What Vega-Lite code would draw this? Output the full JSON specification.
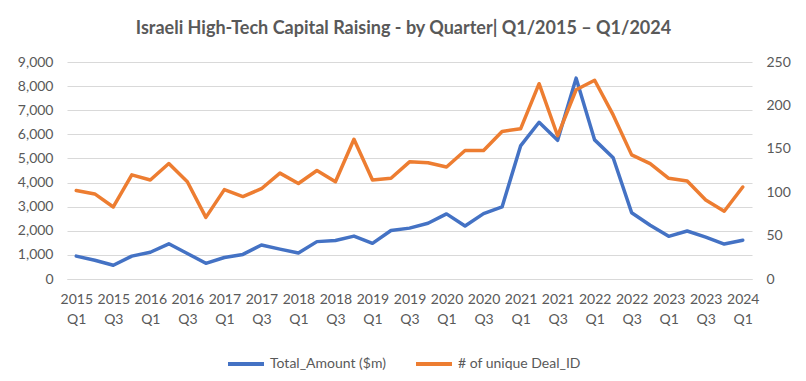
{
  "$schema": "https://vega.github.io/schema/vega-lite/v6.json",
  "autosize": {"type": "none"},
  "padding": {"left": 67, "top": 62, "right": 54, "bottom": 102},
  "width": 685,
  "height": 217,
  "background": "white",
  "title": {
    "text": "Israeli High-Tech Capital Raising - by Quarter| Q1/2015 – Q1/2024",
    "font": "Lato",
    "fontSize": 18,
    "fontWeight": "bold",
    "color": "#595959",
    "anchor": "middle",
    "offset": 17,
    "dx": -6
  },
  "data": {
    "values": [
      {"q": "2015 Q1", "amt": 950, "deals": 102},
      {"q": "2015 Q2", "amt": 780, "deals": 98},
      {"q": "2015 Q3", "amt": 570, "deals": 83},
      {"q": "2015 Q4", "amt": 950, "deals": 120},
      {"q": "2016 Q1", "amt": 1110, "deals": 114},
      {"q": "2016 Q2", "amt": 1460, "deals": 133},
      {"q": "2016 Q3", "amt": 1060, "deals": 112},
      {"q": "2016 Q4", "amt": 650, "deals": 71},
      {"q": "2017 Q1", "amt": 890, "deals": 103},
      {"q": "2017 Q2", "amt": 1020, "deals": 95},
      {"q": "2017 Q3", "amt": 1410, "deals": 104},
      {"q": "2017 Q4", "amt": 1240, "deals": 122},
      {"q": "2018 Q1", "amt": 1080, "deals": 110},
      {"q": "2018 Q2", "amt": 1550, "deals": 125},
      {"q": "2018 Q3", "amt": 1600, "deals": 112},
      {"q": "2018 Q4", "amt": 1780, "deals": 161},
      {"q": "2019 Q1", "amt": 1480, "deals": 114},
      {"q": "2019 Q2", "amt": 2010, "deals": 116},
      {"q": "2019 Q3", "amt": 2110, "deals": 135},
      {"q": "2019 Q4", "amt": 2310, "deals": 134},
      {"q": "2020 Q1", "amt": 2700, "deals": 129},
      {"q": "2020 Q2", "amt": 2200, "deals": 148},
      {"q": "2020 Q3", "amt": 2710, "deals": 148},
      {"q": "2020 Q4", "amt": 2990, "deals": 170},
      {"q": "2021 Q1", "amt": 5520, "deals": 173},
      {"q": "2021 Q2", "amt": 6500, "deals": 225},
      {"q": "2021 Q3", "amt": 5750, "deals": 165},
      {"q": "2021 Q4", "amt": 8330, "deals": 218},
      {"q": "2022 Q1", "amt": 5770, "deals": 229},
      {"q": "2022 Q2", "amt": 5030, "deals": 189},
      {"q": "2022 Q3", "amt": 2750, "deals": 143},
      {"q": "2022 Q4", "amt": 2230, "deals": 133},
      {"q": "2023 Q1", "amt": 1770, "deals": 116},
      {"q": "2023 Q2", "amt": 1990, "deals": 113},
      {"q": "2023 Q3", "amt": 1740, "deals": 91},
      {"q": "2023 Q4", "amt": 1450, "deals": 78},
      {"q": "2024 Q1", "amt": 1610, "deals": 106}
    ]
  },
  "encoding": {
    "x": {
      "field": "q",
      "type": "ordinal",
      "sort": null,
      "scale": {"type": "point", "padding": 0.5},
      "axis": {
        "title": null,
        "labelAngle": 0,
        "values": ["2015 Q1","2015 Q3","2016 Q1","2016 Q3","2017 Q1","2017 Q3","2018 Q1","2018 Q3","2019 Q1","2019 Q3","2020 Q1","2020 Q3","2021 Q1","2021 Q3","2022 Q1","2022 Q3","2023 Q1","2023 Q3","2024 Q1"],
        "labelExpr": "split(datum.value, ' ')",
        "labelLineHeight": 20,
        "labelPadding": 13,
        "ticks": false,
        "domainColor": "#d9d9d9",
        "grid": false
      }
    }
  },
  "layer": [
    {
      "mark": {"type": "line", "strokeWidth": 3.5, "strokeJoin": "round", "strokeCap": "round"},
      "encoding": {
        "y": {
          "field": "amt",
          "type": "quantitative",
          "scale": {"domain": [0, 9000], "nice": false},
          "axis": {
            "title": null,
            "orient": "left",
            "values": [0,1000,2000,3000,4000,5000,6000,7000,8000,9000],
            "format": ",.0f",
            "grid": true,
            "gridColor": "#d9d9d9",
            "gridWidth": 1,
            "domain": false,
            "ticks": false,
            "labelPadding": 14
          }
        },
        "color": {
          "datum": "Total_Amount ($m)",
          "scale": {"domain": ["Total_Amount ($m)", "# of unique Deal_ID"], "range": ["#4472C4", "#ED7D31"]},
          "legend": {"orient": "none", "legendX": 159, "legendY": 282, "direction": "horizontal"}
        }
      }
    },
    {
      "mark": {"type": "line", "strokeWidth": 3.5, "strokeJoin": "round", "strokeCap": "round"},
      "encoding": {
        "y": {
          "field": "deals",
          "type": "quantitative",
          "scale": {"domain": [0, 250], "nice": false},
          "axis": {
            "title": null,
            "orient": "right",
            "values": [0,50,100,150,200,250],
            "format": ".0f",
            "grid": false,
            "domain": false,
            "ticks": false,
            "labelPadding": 14
          }
        },
        "color": {"datum": "# of unique Deal_ID"}
      }
    }
  ],
  "resolve": {"scale": {"y": "independent"}},
  "config": {
    "font": "Lato",
    "view": {"stroke": null},
    "axis": {
      "labelFont": "Lato",
      "labelFontSize": 14,
      "labelColor": "#595959"
    },
    "legend": {
      "title": null,
      "labelFont": "Lato",
      "labelFontSize": 14,
      "labelColor": "#595959",
      "symbolType": "stroke",
      "symbolSize": 1296,
      "symbolStrokeWidth": 4,
      "columnPadding": 22,
      "labelOffset": 4
    }
  }
}
